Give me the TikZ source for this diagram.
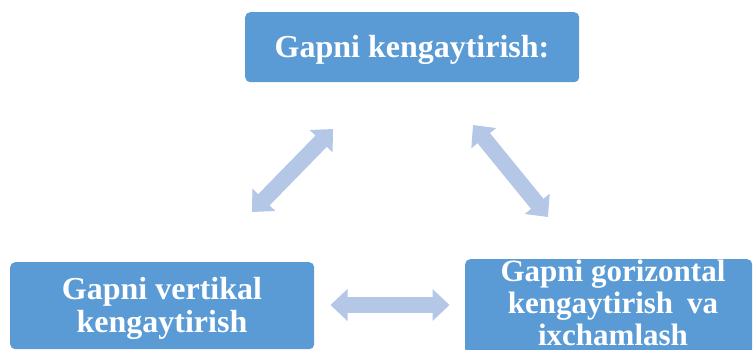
\documentclass[tikz,border=0pt]{standalone}
\usepackage{fontspec}
\setmainfont{Liberation Serif}
\usetikzlibrary{arrows.meta}
\definecolor{boxblue}{HTML}{5B9BD5}
\definecolor{arrblue}{HTML}{B4C7E7}
\begin{document}
\begin{tikzpicture}[x=1pt,y=-1pt,
  box/.style={fill=boxblue, rounded corners=5pt, inner sep=0pt, anchor=north west},
  lbl/.style={text=white, font=\bfseries\fontsize{32}{33}\selectfont, align=center, inner sep=0pt},
  lblr/.style={lbl, font=\bfseries\fontsize{31}{32}\selectfont},
  dbl/.style={draw=arrblue, line width=16pt,
    {Triangle[length=17pt,width=31pt]}-{Triangle[length=17pt,width=31pt]}}]
\useasboundingbox (0,0) rectangle (756,349);
\clip (0,0) rectangle (756,349);
% boxes
\node[box, minimum width=334pt, minimum height=70pt] (top) at (245,12) {};
\node[box, minimum width=304pt, minimum height=87pt] (left) at (10,262) {};
\node[box, minimum width=287pt, minimum height=95pt] (right) at (465,259) {};
% labels
\node[lbl, anchor=base] (toplbl) at (412,57) {Gapni kengaytirish:};
\node[lbl] (leftlbl) at (162,308) {Gapni vertikal\\kengaytirish};
\node[lblr] (rightlbl) at (613,302.7) {Gapni gorizontal\\kengaytirish\hspace{0.45em}va\\ixchamlash};
% arrows
\coordinate (l1) at (252,212);
\coordinate (l2) at (333,129);
\coordinate (r1) at (473,125);
\coordinate (r2) at (548,217);
\coordinate (b1) at (330.5,305);
\coordinate (b2) at (449.5,305);
\draw[dbl] (l1) -- (l2);
\draw[dbl] (r1) -- (r2);
\draw[dbl] (b1) -- (b2);
\end{tikzpicture}
\end{document}
